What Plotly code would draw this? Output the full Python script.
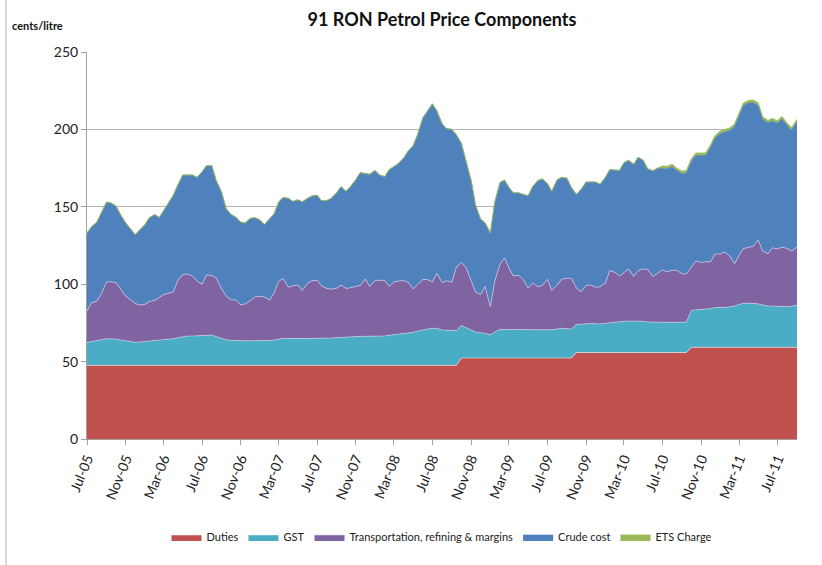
import pandas as pd
import plotly.graph_objects as go

# Semi-monthly observation dates (1st and 15th), Jul 2005 - Sep 2011
dates = pd.date_range("2005-07-01", periods=149, freq="SMS")

duties = [47.6] * 78 + [52.3] * 24 + [55.9] * 24 + [59.2] * 23

gst = [14.8, 15.3, 15.9, 16.6, 17.2, 17.1, 17.0, 16.4, 15.7, 15.3,
       14.9, 15.1, 15.4, 15.8, 16.3, 16.4, 16.4, 16.7, 17.2, 17.8,
       18.5, 18.9, 18.9, 19.0, 19.4, 19.6, 19.6, 18.5, 17.5, 16.5,
       16.2, 16.0, 15.7, 15.8, 15.9, 15.9, 15.7, 15.6, 16.0, 16.4,
       16.9, 17.4, 17.3, 17.2, 17.2, 17.2, 17.3, 17.4, 17.4, 17.4,
       17.4, 17.6, 17.9, 18.1, 18.2, 18.4, 18.6, 18.8, 18.8, 18.8,
       18.8, 18.8, 19.0, 19.4, 19.8, 20.0, 20.4, 20.8, 21.3, 22.1,
       23.0, 23.4, 23.9, 23.9, 22.8, 22.6, 22.4, 22.4, 21.1, 19.7,
       18.1, 16.8, 16.4, 16.0, 15.0, 16.9, 18.5, 18.5, 18.4, 18.1,
       18.1, 18.1, 18.1, 18.3, 18.5, 18.3, 18.2, 18.3, 18.8, 19.2,
       18.9, 18.8, 18.1, 18.4, 18.8, 18.7, 18.6, 18.4, 18.8, 19.3,
       19.6, 19.9, 20.2, 20.3, 20.3, 20.3, 20.1, 19.7, 19.5, 19.5,
       19.5, 19.5, 19.5, 19.5, 19.5, 19.5, 23.9, 24.1, 24.2, 24.3,
       25.0, 25.7, 25.7, 25.8, 26.2, 26.7, 27.7, 28.5, 28.5, 28.5,
       28.1, 27.3, 26.7, 26.7, 26.7, 26.4, 26.2, 26.7, 27.2]

transport = [20.1, 25.1, 25.5, 29.5, 36.7, 36.9, 36.4, 33.0, 28.9, 27.3,
             25.0, 23.8, 24.0, 25.4, 25.7, 27.4, 29.2, 29.7, 30.2, 36.9,
             40.1, 40.1, 38.8, 35.4, 33.0, 38.8, 38.4, 37.9, 31.9, 28.4,
             26.0, 26.4, 23.2, 23.9, 25.8, 28.2, 28.9, 28.5, 26.2, 30.4,
             37.3, 38.7, 33.1, 34.2, 34.7, 31.2, 35.6, 37.3, 37.5, 34.0,
             32.2, 31.6, 31.9, 33.7, 31.5, 31.7, 32.3, 32.8, 36.9, 32.1,
             36.1, 35.9, 35.9, 31.5, 34.1, 34.4, 34.3, 32.9, 28.1, 30.0,
             32.4, 32.0, 30.0, 35.5, 30.6, 32.0, 31.3, 41.0, 40.6, 39.0,
             31.1, 25.9, 24.6, 30.2, 18.2, 32.8, 42.2, 46.2, 39.6, 34.9,
             35.4, 32.6, 27.1, 30.2, 27.5, 28.6, 32.7, 25.3, 28.4, 31.7,
             32.6, 32.7, 23.6, 20.8, 24.5, 24.9, 23.5, 24.0, 26.1, 33.6,
             32.1, 29.4, 31.4, 33.6, 28.8, 32.5, 33.8, 34.0, 29.5, 31.4,
             33.9, 32.6, 33.6, 33.6, 31.3, 31.2, 27.9, 31.7, 30.6, 31.0,
             30.3, 34.6, 34.6, 35.8, 32.4, 27.3, 31.6, 35.3, 36.1, 36.8,
             41.2, 35.0, 33.8, 37.6, 36.9, 38.4, 37.6, 35.6, 37.6]

crude = [50.5, 49.0, 51.0, 52.3, 51.5, 50.9, 49.5, 48.0, 47.3, 45.8,
         44.5, 48.5, 51.5, 54.2, 55.4, 51.6, 54.3, 58.0, 62.5, 61.7,
         64.3, 63.9, 65.2, 67.0, 72.5, 70.5, 70.9, 63.0, 62.5, 56.5,
         55.2, 53.5, 53.5, 52.2, 53.2, 51.3, 49.3, 46.8, 52.7, 51.1,
         51.2, 52.3, 57.5, 54.5, 55.0, 57.2, 55.0, 54.7, 55.0, 55.0,
         56.8, 58.7, 61.6, 63.6, 62.7, 65.3, 69.0, 72.8, 68.2, 72.5,
         71.0, 68.2, 67.0, 75.5, 74.5, 76.0, 79.2, 84.7, 92.5, 96.8,
         104.5, 109.0, 115.0, 105.0, 102.5, 98.3, 98.7, 85.5, 77.0, 69.0,
         65.5, 56.0, 48.7, 41.2, 47.5, 51.0, 52.8, 50.2, 52.2, 53.7,
         53.2, 55.0, 59.7, 62.2, 68.7, 68.8, 61.8, 64.1, 68.0, 65.8,
         64.7, 58.7, 60.4, 65.9, 66.8, 66.5, 68.0, 66.2, 68.2, 65.2,
         66.2, 68.3, 71.0, 70.2, 72.5, 73.3, 70.2, 64.9, 68.4, 68.2,
         65.5, 66.4, 66.8, 64.4, 64.7, 65.1, 68.4, 68.1, 69.1, 68.6,
         73.9, 74.9, 77.9, 77.4, 81.6, 88.7, 89.9, 92.4, 93.3, 92.9,
         86.9, 84.9, 84.5, 81.9, 81.1, 82.7, 79.4, 77.9, 80.9]

ets = [0.0] * 120 + [1.6] * 29

series = [
    ("Duties", duties, "#C0504D", "rgba(255,255,255,0.75)"),
    ("GST", gst, "#4BACC6", "rgba(255,255,255,0.55)"),
    ("Transportation, refining & margins", transport, "#8064A2", "rgba(220,210,240,0.9)"),
    ("Crude cost", crude, "#4F81BD", "#4F81BD"),
    ("ETS Charge", ets, "#9BBB59", "#9BBB59"),
]

FONT = "Lato, 'Open Sans', sans-serif"

fig = go.Figure()
for name, vals, fc, lc in series:
    fig.add_trace(go.Scatter(
        x=dates, y=vals, name=name, mode="lines",
        stackgroup="one", fillcolor=fc,
        line=dict(color=lc, width=1 if name == "ETS Charge" else 0.7),
    ))

fig.update_layout(
    width=822, height=565,
    margin=dict(l=87, r=25, t=52, b=126),
    paper_bgcolor="white", plot_bgcolor="white",
    font=dict(family=FONT, color="#222222"),
    title=dict(text="<b>91 RON Petrol Price Components</b>",
               x=0.5, xref="paper", xanchor="center",
               y=1 - 20 / 565, yanchor="middle",
               font=dict(size=18, family=FONT, color="#111111")),
    showlegend=True,
    legend=dict(orientation="h", x=0.5, xanchor="center",
                y=(439 - 537) / 387, yanchor="middle",
                traceorder="normal", font=dict(size=11, family=FONT),
                itemwidth=30),
    annotations=[dict(text="<b>cents/litre</b>", xref="paper", yref="paper",
                      x=(10 - 87) / 710, y=(439 - 26) / 387,
                      xanchor="left", yanchor="middle", showarrow=False,
                      font=dict(size=11, family=FONT, color="#111111"))],
    shapes=[dict(type="line", xref="paper", yref="paper",
                 x0=(6 - 87) / 710, x1=(6 - 87) / 710,
                 y0=(439 - 565) / 387, y1=(439 - 0) / 387,
                 line=dict(color="#b0b0b0", width=1))],
)

fig.update_xaxes(
    type="date", range=["2005-07-01", "2011-09-01"],
    tick0="2005-07-01", dtick="M4", tickformat="%b-%y",
    tickangle=-68, tickfont=dict(size=14, family=FONT, color="#222222"),
    showgrid=False, showline=True, linecolor="#a0a0a0", linewidth=1,
    ticks="outside", ticklen=5, tickcolor="#a0a0a0", zeroline=False,
)
fig.update_yaxes(
    range=[0, 250], dtick=50, tickfont=dict(size=14, family=FONT, color="#222222"),
    showgrid=True, gridcolor="#b3b3b3", gridwidth=1,
    showline=True, linecolor="#a0a0a0", linewidth=1,
    ticks="outside", ticklen=5, tickcolor="#a0a0a0", zeroline=False,
)

fig.write_html("out.html",
               config={"displayModeBar": False},
               post_script="document.body.style.margin='0';document.body.style.overflow='hidden';")
